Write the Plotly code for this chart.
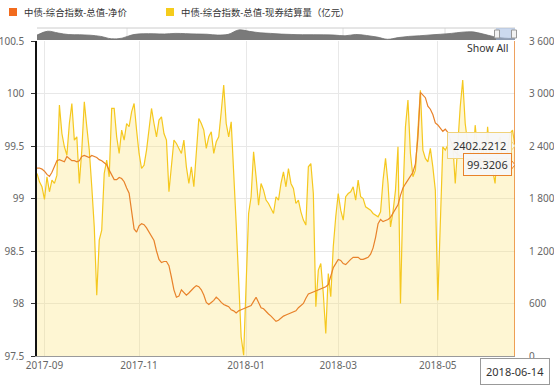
import pandas as pd
import plotly.graph_objects as go

# ---------------- data ----------------
start_date = "2017-08-29"
end_date = "2018-06-14"
holidays = ["2017-10-02", "2017-10-03", "2017-10-04", "2017-10-05", "2017-10-06",
            "2018-01-01", "2018-02-15", "2018-02-16", "2018-02-19", "2018-02-20",
            "2018-02-21", "2018-04-05", "2018-04-06", "2018-04-30", "2018-05-01"]

series_names = ["中债-综合指数-总值-净价", "中债-综合指数-总值-现券结算量（亿元）"]

net_price = [
    99.29, 99.29, 99.28, 99.26, 99.23, 99.21, 99.25, 99.30, 99.36, 99.37,
    99.36, 99.35, 99.40, 99.38, 99.36, 99.36, 99.35, 99.36, 99.40, 99.41,
    99.40, 99.39, 99.41, 99.40, 99.39, 99.37, 99.36, 99.34, 99.32, 99.27,
    99.22, 99.18, 99.18, 99.20, 99.19, 99.16, 99.10, 99.05, 98.88, 98.71,
    98.68, 98.74, 98.76, 98.75, 98.72, 98.68, 98.64, 98.60, 98.50, 98.42,
    98.39, 98.40, 98.40, 98.36, 98.25, 98.13, 98.06, 98.07, 98.13, 98.10,
    98.08, 98.10, 98.13, 98.15, 98.17, 98.16, 98.13, 98.08, 98.01, 97.99,
    98.01, 98.03, 98.06, 98.04, 98.01, 97.99, 97.98, 97.97, 97.94, 97.93,
    97.91, 97.93, 97.94, 97.95, 97.96, 97.97, 97.98, 98.02, 98.06, 98.01,
    97.96, 97.95, 97.92, 97.90, 97.88, 97.85, 97.83, 97.84, 97.86, 97.88,
    97.89, 97.90, 97.91, 97.92, 97.93, 97.96, 97.98, 98.00, 98.05, 98.09,
    98.10, 98.11, 98.12, 98.13, 98.14, 98.15, 98.16, 98.18, 98.26, 98.34,
    98.38, 98.42, 98.41, 98.38, 98.37, 98.40, 98.42, 98.44, 98.44, 98.44,
    98.42, 98.42, 98.43, 98.44, 98.47, 98.53, 98.63, 98.76, 98.80, 98.78,
    98.79, 98.80, 98.82, 98.86, 98.90, 98.94, 99.03, 99.10, 99.14, 99.18,
    99.21, 99.25, 99.33, 99.58, 100.01, 99.98, 99.96, 99.88, 99.85, 99.80,
    99.72, 99.70, 99.67, 99.64, 99.66, 99.63, 99.56, 99.49, 99.44, 99.42,
    99.40, 99.41, 99.39, 99.37, 99.38, 99.36, 99.34, 99.36, 99.37, 99.35,
    99.33, 99.34, 99.36, 99.35, 99.33, 99.32, 99.34, 99.33, 99.31, 99.32,
    99.33, 99.32, 99.3206,
]

settlement = [
    2086, 1990, 1934, 1789, 2048, 1877, 2010, 1972, 2067, 2867,
    2543, 2391, 2296, 2657, 2886, 2467, 2505, 1972, 2353, 2905,
    2620, 2353, 1934, 1476, 695, 1324, 1438, 2086, 2238, 2048,
    2829, 2829, 2505, 2315, 2581, 2467, 2657, 2620, 2790, 2886,
    2581, 2315, 2143, 2181, 2353, 2581, 2829, 2657, 2505, 2696,
    2734, 2543, 2467, 1877, 2162, 2467, 2429, 2372, 2315, 2467,
    2162, 1972, 2162, 1934, 2300, 2715, 2657, 2581, 2372, 2505,
    2562, 2315, 2448, 2505, 2791, 3096, 2657, 2505, 2676, 2162,
    1515, 867, 219, 10, 791, 1629, 1820, 2334, 2048, 1724,
    1972, 1896, 1782, 1743, 1686, 1629, 1820, 1782, 1972, 2105,
    1934, 2143, 1972, 1915, 1743, 1782, 1648, 1553, 1496, 2162,
    2200, 1857, 562, 981, 1057, 714, 257, 943, 677, 1248,
    1591, 1857, 1667, 1553, 1820, 1857, 1877, 1934, 1782, 2010,
    1820, 1800, 1705, 1686, 1667, 1629, 1610, 1591, 1648, 2010,
    2258, 1972, 1476, 1648, 1896, 2391, 600, 1820, 2620, 2924,
    2315, 2048, 2124, 2543, 3038, 2353, 2258, 2219, 2372, 2162,
    1896, 638, 1476, 2391, 2353, 2410, 2391, 2429, 1972, 2467,
    2848, 3153, 2657, 2429, 2353, 2162, 2638, 2353, 2200, 2429,
    2162, 2620, 2277, 2124, 1972, 2429, 2505, 2200, 2124, 2353,
    2543, 2581, 2402.2212,
]

x_tick_vals = ["2017-09-01", "2017-11-01", "2018-01-02", "2018-03-01", "2018-05-02"]
x_tick_text = ["2017-09", "2017-11", "2018-01", "2018-03", "2018-05"]
left_ticks = [97.5, 98, 98.5, 99, 99.5, 100, 100.5]
left_tick_text = ["97.5", "98", "98.5", "99", "99.5", "100", "100.5"]
right_ticks = [0, 600, 1200, 1800, 2400, 3000, 3600]
right_tick_text = ["0", "600", "1 200", "1 800", "2 400", "3 000", "3 600"]

navigator_values = [
    0.41, 0.73, 0.58, 0.45, 0.44, 0.40, 0.30, 0.10, 0.15, 0.44,
    0.52, 0.52, 0.50, 0.55, 0.53, 0.50, 0.48, 0.41, 0.47, 0.84,
    0.72, 0.60, 0.55, 0.49, 0.46, 0.44, 0.44, 0.43, 0.41, 0.35,
    0.46, 0.38, 0.25, 0.06, 0.20, 0.30, 0.35, 0.42, 0.48, 0.55,
    0.65, 0.68, 0.50, 0.28, 0.15, 0.13,
]

dates = [d for d in pd.bdate_range(start_date, end_date) if d.strftime("%Y-%m-%d") not in holidays]
n = min(len(dates), len(net_price), len(settlement))
dates = dates[:n]
net_price = net_price[:n]
settlement = settlement[:n]
last_date = dates[-1]

# ---------------- layout helpers ----------------
W, H = 554, 389
ML, MR, MT, MB = 37, 39, 27, 33
PW, PH = W - ML - MR, H - MT - MB
MAIN_TOP = 41
main_top_frac = (H - MB - MAIN_TOP) / PH


def px(xp):
    return (xp - ML) / PW


def py(yp):
    return (H - MB - yp) / PH


FONT = "Noto Sans, Noto Sans CJK SC, sans-serif"
ORANGE = "#e8822a"
YELLOW = "#f5c81f"
TIP_BG = "rgba(247,247,247,0.95)"

fig = go.Figure()

fig.add_trace(go.Scatter(
    x=dates, y=settlement, xaxis="x", yaxis="y", mode="lines",
    line=dict(color=YELLOW, width=1.2), fill="tozeroy",
    fillcolor="rgba(252,226,110,0.30)", name=series_names[1], hoverinfo="skip"))

fig.add_trace(go.Scatter(
    x=dates, y=net_price, xaxis="x", yaxis="y2", mode="lines",
    line=dict(color=ORANGE, width=1.2), name=series_names[0], hoverinfo="skip"))

fig.add_trace(go.Scatter(
    x=list(range(len(navigator_values))), y=navigator_values, xaxis="x2", yaxis="y3",
    mode="lines", line=dict(color="#707070", width=0.8, shape="spline"),
    fill="tozeroy", fillcolor="#7a7a7a", hoverinfo="skip"))

tickfont = dict(family=FONT, size=10, color="#666666")

fig.update_layout(
    width=W, height=H,
    margin=dict(l=ML, r=MR, t=MT, b=MB, autoexpand=False),
    paper_bgcolor="white", plot_bgcolor="white",
    showlegend=False,
    font=dict(family=FONT),
    xaxis=dict(
        type="date", domain=[0, 1], anchor="y", automargin=False,
        range=[dates[0], last_date],
        rangebreaks=[dict(bounds=["sat", "mon"]), dict(values=holidays)],
        tickvals=x_tick_vals, ticktext=x_tick_text,
        showgrid=True, gridcolor="#e8e8e8", gridwidth=1,
        showline=True, linecolor="#9a9a9a", linewidth=1,
        ticks="", tickfont=tickfont, zeroline=False,
    ),
    yaxis=dict(
        domain=[0, main_top_frac], anchor="x", side="right", automargin=False,
        range=[0, 3600], tickvals=right_ticks, ticktext=right_tick_text,
        showgrid=True, gridcolor="#e8e8e8", gridwidth=1,
        showline=False, zeroline=False, ticks="",
        ticklabelstandoff=13, tickfont=tickfont,
    ),
    yaxis2=dict(
        overlaying="y", side="left", anchor="x", automargin=False,
        range=[97.5, 100.5], tickvals=left_ticks, ticktext=left_tick_text,
        showgrid=False, zeroline=False,
        showline=True, linecolor="#111111", linewidth=1.5,
        ticks="outside", ticklen=4, tickcolor="#333333", tickwidth=1,
        ticklabelstandoff=5, tickfont=tickfont,
    ),
    xaxis2=dict(domain=[0, 1], anchor="y3", range=[0, len(navigator_values) - 1],
                visible=False, fixedrange=True, automargin=False),
    yaxis3=dict(domain=[py(40), py(28)], anchor="x2", range=[0, 1],
                visible=False, fixedrange=True, automargin=False),
)

shapes = []
# navigator decorations
for gx in [127, 246, 343, 445]:
    shapes.append(dict(type="line", xref="paper", yref="paper", x0=px(gx), x1=px(gx),
                       y0=py(40), y1=py(28), line=dict(color="#e0e0e0", width=1), layer="below"))
shapes.append(dict(type="line", xref="paper", yref="paper", x0=0, x1=1, y0=py(28), y1=py(28),
                   line=dict(color="#cccccc", width=1)))
shapes.append(dict(type="rect", xref="paper", yref="paper", x0=px(496), x1=1,
                   y0=py(40), y1=py(28), fillcolor="rgba(160,185,225,0.55)", line=dict(width=0)))
for hx in [497, 514]:
    shapes.append(dict(type="rect", xref="paper", yref="paper", x0=px(hx - 2.5), x1=px(hx + 2.5),
                       y0=py(38), y1=py(30), fillcolor="#f2f2f2",
                       line=dict(color="#999999", width=1)))
# crosshair
shapes.append(dict(type="line", xref="x", yref="paper", x0=last_date, x1=last_date,
                   y0=0, y1=main_top_frac, line=dict(color=ORANGE, width=1.5)))
# tooltip pointers (pixel-sized, anchored at the last points)
shapes.append(dict(type="path", xref="x", yref="y", xsizemode="pixel", ysizemode="pixel",
                   xanchor=last_date, yanchor=settlement[-1],
                   path="M -4,5 L 0,0 L -4,-5 Z", fillcolor=TIP_BG,
                   line=dict(color="#f0d27a", width=1)))
shapes.append(dict(type="path", xref="x", yref="y2", xsizemode="pixel", ysizemode="pixel",
                   xanchor=last_date, yanchor=net_price[-1],
                   path="M -4,5 L 0,0 L -4,-5 Z", fillcolor=TIP_BG,
                   line=dict(color=ORANGE, width=1)))
# legend squares
shapes.append(dict(type="rect", xref="paper", yref="paper", x0=px(9), x1=px(17),
                   y0=py(16), y1=py(8), fillcolor="#f26b1d", line=dict(width=0)))
shapes.append(dict(type="rect", xref="paper", yref="paper", x0=px(166), x1=px(174),
                   y0=py(16), y1=py(8), fillcolor="#f5cc1c", line=dict(width=0)))
fig.update_layout(shapes=shapes)

legend_font = dict(family=FONT, size=9.4, color="#333333")
annotations = [
    dict(xref="paper", yref="paper", x=px(22), y=py(12), xanchor="left", yanchor="middle",
         text=series_names[0], showarrow=False, font=legend_font),
    dict(xref="paper", yref="paper", x=px(179), y=py(12), xanchor="left", yanchor="middle",
         text=series_names[1], showarrow=False, font=legend_font),
    dict(xref="paper", yref="paper", x=px(488), y=py(48), xanchor="center", yanchor="middle",
         text="Show All", showarrow=False, font=dict(family=FONT, size=10.5, color="#333333")),
    dict(xref="x", yref="y", x=last_date, y=settlement[-1], xanchor="right", yanchor="middle",
         xshift=-3, text=f"{settlement[-1]:.4f}", showarrow=False,
         bgcolor=TIP_BG, bordercolor="#f0d27a", borderwidth=1, borderpad=5,
         font=dict(family=FONT, size=11, color="#333333")),
    dict(xref="x", yref="y2", x=last_date, y=net_price[-1], xanchor="right", yanchor="middle",
         xshift=-3, text=f"{net_price[-1]:.4f}", showarrow=False,
         bgcolor=TIP_BG, bordercolor=ORANGE, borderwidth=1, borderpad=3,
         font=dict(family=FONT, size=11, color="#333333")),
    dict(xref="paper", yref="paper", x=1, y=0, xanchor="center", yanchor="top", yshift=-2,
         text=last_date.strftime("%Y-%m-%d"), showarrow=False,
         bgcolor="white", bordercolor="#999999", borderwidth=1, borderpad=5,
         font=dict(family=FONT, size=11, color="#333333")),
]
fig.update_layout(annotations=annotations)

fig.write_html("out.html", config={"displayModeBar": False},
               post_script="document.body.style.margin='0';")
